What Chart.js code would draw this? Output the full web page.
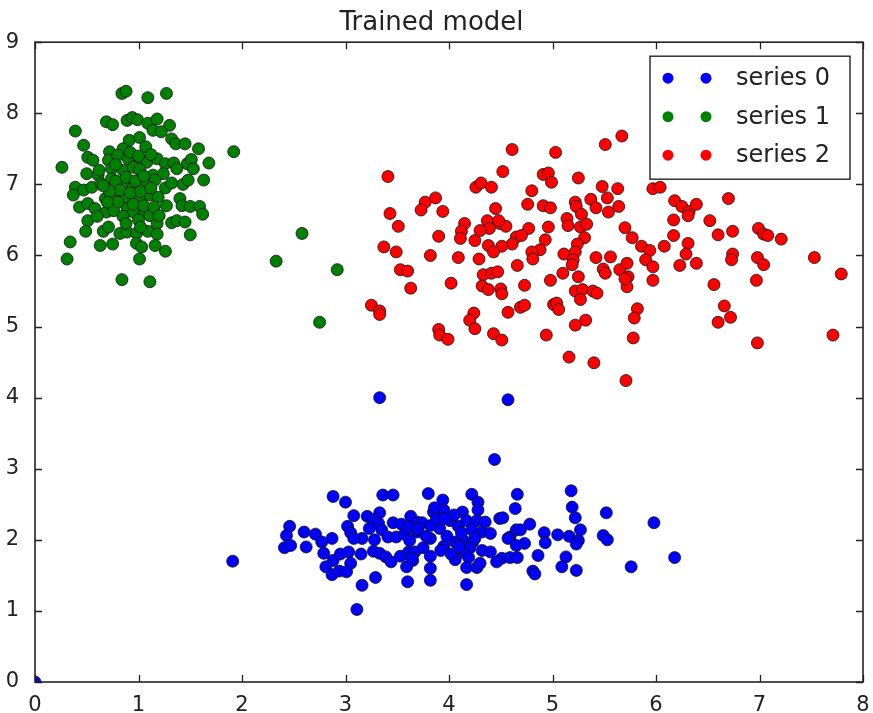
<!DOCTYPE html>
<html>
<head>
<meta charset="utf-8">
<script src="https://cdn.jsdelivr.net/npm/chart.js@4"></script>
<style>
  html, body { margin: 0; padding: 0; background: #fff; }
  #wrap { width: 873px; height: 713px; }
</style>
</head>
<body>
<div id="wrap"><canvas id="plot" width="873" height="713"></canvas></div>
<script>
const chartTitle = 'Trained model';
const seriesNames = ['series 0', 'series 1', 'series 2'];
const seriesColors = ['#0000ff', '#008000', '#ff0000'];
const xTicks = [0, 1, 2, 3, 4, 5, 6, 7, 8];
const yTicks = [0, 1, 2, 3, 4, 5, 6, 7, 8, 9];

// series 0 (blue)
const series0 = [
  [0, 0], [3.33, 4.00], [4.57, 3.97], [4.44, 3.13],
  [2.88, 2.61], [3.00, 2.53], [3.36, 2.63], [3.46, 2.63],
  [3.08, 2.34], [3.21, 2.33], [3.33, 2.38], [3.27, 2.28], [3.32, 2.23],
  [3.46, 2.24], [3.54, 2.22], [3.63, 2.33], [3.69, 2.25],
  [2.46, 2.19], [2.43, 2.06], [2.60, 2.11], [2.71, 2.08], [2.87, 2.02], [2.77, 1.97],
  [2.41, 1.89], [2.47, 1.92], [2.62, 1.90],
  [3.02, 2.19], [3.05, 2.10], [3.23, 2.16], [3.35, 2.14], [3.16, 2.02], [3.28, 2.00],
  [3.08, 2.02], [3.41, 2.04], [3.49, 2.04], [3.57, 2.08], [3.61, 2.18], [3.69, 2.11],
  [2.79, 1.81], [2.88, 1.71], [2.95, 1.80], [3.03, 1.83], [3.15, 1.80], [3.27, 1.84],
  [3.33, 1.81], [3.39, 1.76], [3.44, 1.69], [3.53, 1.77], [3.61, 1.83], [3.67, 1.83], [3.65, 1.71],
  [3.05, 1.67], [2.81, 1.62], [2.87, 1.51], [2.94, 1.56], [3.01, 1.55], [3.59, 1.62],
  [1.91, 1.70], [3.16, 1.36], [3.29, 1.47], [3.60, 1.41], [3.11, 1.02],
  [3.80, 2.65], [3.94, 2.56], [4.22, 2.64], [4.66, 2.64], [5.18, 2.69],
  [3.95, 2.42], [3.85, 2.39], [4.13, 2.39], [4.28, 2.53], [4.28, 2.42], [4.64, 2.44],
  [5.19, 2.46], [5.22, 2.31], [5.52, 2.38], [5.98, 2.24],
  [3.74, 2.24], [3.82, 2.20], [3.91, 2.16], [4.01, 2.27], [4.09, 2.19], [4.17, 2.27],
  [4.27, 2.27], [4.22, 2.14], [4.32, 2.11], [4.40, 2.09], [4.49, 2.30], [4.52, 2.31],
  [4.59, 2.04], [4.65, 2.14], [4.69, 2.14], [4.78, 2.22], [4.57, 2.02], [4.73, 1.95], [4.65, 1.92],
  [4.92, 2.10], [4.93, 1.96], [5.05, 2.07], [5.16, 2.05], [5.27, 2.14], [5.25, 1.99],
  [5.23, 1.94], [5.49, 2.06], [5.53, 2.00],
  [3.62, 1.99], [3.75, 1.89], [3.82, 2.02], [3.95, 1.91], [4.06, 1.97], [4.14, 1.99],
  [4.23, 1.97], [4.20, 1.88], [4.32, 1.85], [4.40, 1.83], [4.14, 1.82],
  [3.64, 1.74], [3.82, 1.77], [4.06, 1.72], [4.19, 1.75], [4.51, 1.74], [4.59, 1.75],
  [4.66, 1.75], [4.86, 1.78], [5.13, 1.76],
  [3.82, 1.60], [3.82, 1.43], [4.17, 1.61], [4.27, 1.61], [4.30, 1.67], [4.46, 1.69], [4.17, 1.37],
  [4.81, 1.56], [4.83, 1.52], [5.09, 1.62], [5.23, 1.57], [5.76, 1.62], [6.18, 1.75],
  [3.70, 2.15], [3.78, 2.05], [3.88, 2.30], [3.98, 2.05], [4.05, 2.35], [4.12, 2.10],
  [3.92, 1.85], [4.02, 1.80], [4.25, 2.02], [4.35, 2.25], [4.10, 1.90], [3.86, 2.45], [3.96, 2.30]
];

// series 1 (green)
const series1 = [
  [0.84, 8.28], [0.88, 8.31], [1.09, 8.22], [1.27, 8.28], [0.39, 7.75],
  [0.69, 7.88], [0.75, 7.84], [0.89, 7.90], [0.94, 7.94], [0.99, 7.91], [1.09, 7.86],
  [1.18, 7.92], [1.30, 7.83], [1.14, 7.76], [1.22, 7.74], [1.32, 7.64], [1.36, 7.57], [1.45, 7.57],
  [0.47, 7.55], [1.58, 7.50], [1.92, 7.46], [0.91, 7.62], [1.01, 7.66], [1.07, 7.53],
  [0.85, 7.50], [0.72, 7.46], [0.51, 7.38], [0.56, 7.34], [0.71, 7.34], [0.80, 7.41],
  [0.90, 7.36], [1.01, 7.36], [1.08, 7.31], [1.18, 7.36], [1.26, 7.29], [1.34, 7.30],
  [1.47, 7.29], [1.51, 7.35], [1.53, 7.22], [1.68, 7.30], [0.26, 7.24], [0.50, 7.15],
  [0.61, 7.13], [0.74, 7.22], [0.85, 7.20], [0.95, 7.24], [1.01, 7.21], [1.14, 7.13],
  [1.24, 7.15], [1.37, 7.22], [0.39, 6.96], [0.37, 6.85], [0.47, 6.92], [0.55, 6.96],
  [0.64, 7.01], [0.74, 7.08], [0.85, 7.01], [0.95, 6.96], [1.08, 7.01], [1.16, 7.06],
  [1.26, 6.95], [1.32, 7.02], [1.43, 7.00], [1.48, 7.06], [1.63, 7.06], [0.43, 6.68],
  [0.51, 6.73], [0.58, 6.66], [0.68, 6.80], [0.77, 6.85], [0.87, 6.82], [1.01, 6.80],
  [1.11, 6.85], [1.19, 6.82], [1.27, 6.70], [1.40, 6.80], [1.42, 6.70], [1.50, 6.69],
  [1.59, 6.69], [1.62, 6.58], [0.51, 6.49], [0.69, 6.61], [0.76, 6.63], [0.89, 6.66],
  [0.95, 6.61], [1.06, 6.63], [1.11, 6.56], [1.18, 6.45], [1.32, 6.46], [1.37, 6.49],
  [1.45, 6.47], [0.49, 6.34], [0.66, 6.34], [0.71, 6.40], [0.82, 6.31], [0.89, 6.33],
  [0.98, 6.31], [1.09, 6.34], [1.18, 6.30], [1.50, 6.29], [0.34, 6.19], [0.63, 6.14],
  [0.75, 6.16], [0.98, 6.17], [1.03, 6.12], [1.16, 6.14], [1.26, 6.06], [0.31, 5.95],
  [1.01, 5.95], [0.84, 5.66], [1.11, 5.63],
  [0.78, 7.05], [0.88, 7.10], [0.97, 7.05], [1.05, 7.12], [0.82, 6.92], [0.92, 6.88],
  [1.02, 6.90], [1.12, 6.95], [0.72, 6.90], [0.80, 6.75], [0.95, 6.72], [1.05, 6.70],
  [1.15, 6.68], [0.70, 6.75], [0.85, 6.55], [1.00, 6.50], [0.92, 7.45], [1.00, 7.40],
  [0.78, 7.28], [1.12, 7.42], [0.62, 7.20], [0.66, 6.98], [1.20, 6.56], [0.60, 6.55],
  [0.88, 6.45], [1.02, 6.40],
  [2.33, 5.92], [2.58, 6.31], [2.92, 5.80], [2.75, 5.06]
];

// series 2 (red)
const series2 = [
  [4.61, 7.49], [4.52, 7.18], [3.41, 7.11], [4.26, 6.96], [4.31, 7.02], [4.41, 6.96],
  [3.77, 6.75], [3.87, 6.81], [3.73, 6.64], [3.94, 6.62], [4.45, 6.66], [3.43, 6.59], [3.51, 6.41],
  [4.15, 6.45], [4.37, 6.49], [4.12, 6.34], [4.11, 6.24], [4.25, 6.21], [4.39, 6.38],
  [4.49, 6.45], [4.55, 6.41], [4.48, 6.49], [4.65, 6.26], [4.61, 6.16],
  [4.51, 6.13], [4.38, 6.14], [4.43, 6.05], [4.30, 6.35], [3.90, 6.27], [3.37, 6.12],
  [3.49, 6.05], [3.82, 6.00], [4.09, 5.97], [4.29, 5.95], [4.66, 5.86], [3.53, 5.80],
  [3.60, 5.78], [4.33, 5.73], [4.41, 5.75], [4.47, 5.77], [4.02, 5.61], [3.63, 5.54],
  [4.32, 5.57], [4.38, 5.52], [4.50, 5.53], [4.51, 5.46], [3.25, 5.30],
  [3.33, 5.22], [3.33, 5.17], [4.24, 5.19], [4.20, 5.09], [4.25, 4.97], [4.57, 5.20],
  [4.69, 5.27], [3.90, 4.96], [3.91, 4.88], [3.99, 4.82], [4.43, 4.90], [4.51, 4.81],
  [5.67, 7.68], [5.51, 7.56], [5.03, 7.45], [4.91, 7.14], [4.96, 7.16], [4.99, 7.03],
  [5.25, 7.09], [5.48, 6.97], [5.63, 6.94], [5.53, 6.81], [5.97, 6.94], [6.04, 6.96],
  [4.80, 6.91], [4.76, 6.72], [4.91, 6.70], [4.98, 6.67], [5.22, 6.75], [5.23, 6.69],
  [5.37, 6.79], [5.42, 6.67], [5.54, 6.61], [5.64, 6.69], [5.28, 6.58], [5.14, 6.52],
  [5.15, 6.42], [5.27, 6.40], [5.33, 6.44], [5.31, 6.25], [6.18, 6.77], [6.25, 6.69],
  [6.32, 6.62], [6.39, 6.72], [6.31, 6.56], [6.17, 6.50], [6.17, 6.28], [6.08, 6.13],
  [6.31, 6.17], [6.29, 6.02], [6.23, 5.86], [6.39, 5.89], [4.77, 6.38], [4.70, 6.28],
  [4.93, 6.22], [4.88, 6.08], [4.80, 6.05], [4.81, 5.95], [4.96, 6.40], [5.70, 6.39],
  [5.77, 6.25], [5.86, 6.13], [5.94, 6.07], [5.90, 5.94], [5.97, 5.84], [5.97, 5.65],
  [5.11, 6.02], [5.24, 6.16], [5.22, 6.05], [5.20, 5.94], [5.19, 5.87], [5.42, 5.97],
  [5.56, 5.98], [5.49, 5.81], [5.51, 5.75], [5.65, 5.80], [5.72, 5.89], [5.73, 5.70],
  [5.72, 5.56], [5.70, 5.67], [5.10, 5.75], [4.98, 5.65], [5.25, 5.70], [5.22, 5.50],
  [5.29, 5.52], [5.39, 5.50], [5.43, 5.47], [5.27, 5.38], [4.73, 5.58], [4.73, 5.30],
  [5.01, 5.31], [5.04, 5.33], [5.06, 5.24], [5.22, 5.02], [5.32, 5.09], [5.82, 5.25],
  [5.79, 5.12], [5.78, 4.84], [4.94, 4.88], [5.16, 4.57], [5.40, 4.49], [5.71, 4.24],
  [6.70, 6.80], [6.52, 6.49], [6.60, 6.29], [6.74, 6.34], [6.99, 6.38], [7.04, 6.30],
  [7.08, 6.28], [7.21, 6.23], [6.74, 6.02], [6.73, 5.94], [6.98, 5.97], [7.04, 5.87],
  [7.53, 5.97], [7.79, 5.74], [6.97, 5.65], [6.56, 5.59], [6.66, 5.29], [6.72, 5.13],
  [6.60, 5.06], [7.71, 4.88], [6.98, 4.77]
];

const allSeries = [series0, series1, series2];
const fontFamily = '"DejaVu Sans", sans-serif';

// axes box with inward ticks on all four sides, plus the boxed legend
const frame = {
  id: 'frame',
  afterDatasetsDraw(chart) {
    const { ctx, chartArea: a, scales: { x, y } } = chart;
    ctx.save();
    ctx.strokeStyle = '#222';
    ctx.lineWidth = 1.3;
    ctx.beginPath();
    x.ticks.forEach(t => {
      const px = Math.round(x.getPixelForValue(t.value)) + 0.5;
      ctx.moveTo(px, a.bottom); ctx.lineTo(px, a.bottom - 7);
      ctx.moveTo(px, a.top); ctx.lineTo(px, a.top + 7);
    });
    y.ticks.forEach(t => {
      const py = Math.round(y.getPixelForValue(t.value)) + 0.5;
      ctx.moveTo(a.left, py); ctx.lineTo(a.left + 7, py);
      ctx.moveTo(a.right, py); ctx.lineTo(a.right - 7, py);
    });
    ctx.stroke();
    ctx.lineWidth = 1.6;
    ctx.strokeRect(a.left, a.top, a.width, a.height);

    // legend
    const bx = a.right - 213, by = a.top + 14, bw = 200, bh = 123;
    ctx.fillStyle = '#fff';
    ctx.fillRect(bx, by, bw, bh);
    ctx.lineWidth = 1.4;
    ctx.strokeStyle = '#222';
    ctx.strokeRect(bx, by, bw, bh);
    ctx.font = '24px ' + fontFamily;
    ctx.textBaseline = 'middle';
    chart.data.datasets.forEach((ds, i) => {
      const ry = by + 22 + i * 38.5;
      [bx + 18, bx + 56].forEach(mx => {
        ctx.beginPath();
        ctx.arc(mx, ry, 5.5, 0, Math.PI * 2);
        ctx.fillStyle = ds.backgroundColor;
        ctx.fill();
      });
      ctx.fillStyle = '#222';
      ctx.fillText(ds.label, bx + 86, ry + 1);
    });
    ctx.restore();
  }
};

const ctx = document.getElementById('plot').getContext('2d');
new Chart(ctx, {
  type: 'scatter',
  data: {
    datasets: allSeries.map((s, i) => ({
      label: seriesNames[i],
      data: s.map(p => ({ x: p[0], y: p[1] })),
      backgroundColor: seriesColors[i],
      borderColor: '#111',
      borderWidth: 0.8,
      pointRadius: 6,
      pointHoverRadius: 6
    }))
  },
  options: {
    responsive: false,
    animation: false,
    layout: { padding: { left: 0, right: 10, top: 0, bottom: 0 } },
    plugins: {
      legend: { display: false },
      tooltip: { enabled: false },
      title: {
        display: true,
        text: chartTitle,
        color: '#222',
        font: { family: fontFamily, size: 26, weight: 'normal' },
        padding: { top: 8, bottom: 3 }
      }
    },
    scales: {
      x: {
        type: 'linear',
        min: xTicks[0],
        max: xTicks[xTicks.length - 1],
        grid: { display: false },
        border: { display: false },
        afterBuildTicks: s => { s.ticks = xTicks.map(v => ({ value: v })); },
        afterFit: s => { s.height = 31; },
        ticks: {
          padding: 3,
          color: '#222',
          maxRotation: 0,
          font: { family: fontFamily, size: 21 }
        }
      },
      y: {
        type: 'linear',
        min: yTicks[0],
        max: yTicks[yTicks.length - 1],
        grid: { display: false },
        border: { display: false },
        afterBuildTicks: s => { s.ticks = yTicks.map(v => ({ value: v })); },
        afterFit: s => { s.width = 35; },
        ticks: {
          padding: 8,
          color: '#222',
          font: { family: fontFamily, size: 21 }
        }
      }
    }
  },
  plugins: [frame]
});
</script>
</body>
</html>
